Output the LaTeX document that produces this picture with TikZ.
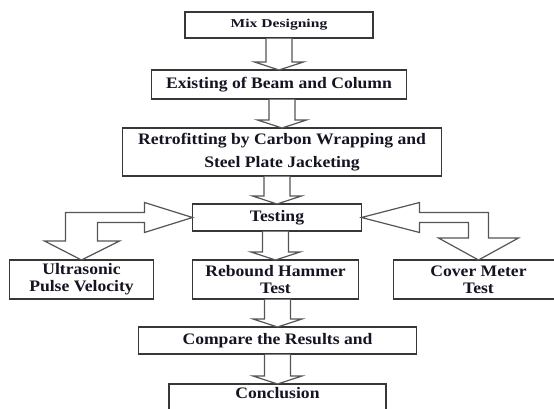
\documentclass[tikz,border=0pt]{standalone}
\usepackage{fontspec}
\setmainfont{Liberation Serif}[FakeStretch=1.1]
\newfontfamily\mixfont{Liberation Serif}[FakeStretch=1.3]
\usepackage{tikz}
\usetikzlibrary{positioning,calc}
\definecolor{flowLine}{RGB}{55,55,55}
\definecolor{flowArrowLine}{RGB}{85,85,85}
\definecolor{flowText}{RGB}{20,20,35}
\tikzset{
  stepbox/.style={rectangle, draw=flowLine, fill=white, line width=1.4pt, inner sep=0pt, outer sep=0pt,
    align=center, text=flowText, font=\fontsize{16}{17}\selectfont\bfseries},
  blockarrow/.style={draw=flowArrowLine, fill=white, line width=1.2pt, line join=miter},
}

\begin{document}
\begin{tikzpicture}[x=1pt, y=1pt, node distance=29pt and 37pt]
  \clip (0,0) rectangle (554,408);
  \node[stepbox, minimum width=188pt, minimum height=26pt,
    font=\mixfont\fontsize{12}{14}\selectfont\bfseries] (mix) at (279,383) {Mix Designing};
  \node[stepbox, minimum width=255pt, minimum height=29pt, below=32pt of mix] (exist) {Existing of Beam and Column};
  \node[stepbox, minimum width=319pt, minimum height=48pt, below=of exist, xshift=3pt,
    font=\fontsize{16}{23}\selectfont\bfseries] (retro) {Retrofitting by Carbon Wrapping and\\Steel Plate Jacketing};
  \node[stepbox, minimum width=169pt, minimum height=27pt, below=28pt of retro, xshift=-5pt] (test) {Testing};
  \node[stepbox, minimum width=166pt, minimum height=39pt, below=of test, xshift=-1.5pt] (rebound) {Rebound Hammer\\Test};
  \node[stepbox, minimum width=144pt, minimum height=39pt, left=39pt of rebound] (ultra) {Ultrasonic\\Pulse Velocity};
  \node[stepbox, minimum width=170pt, minimum height=39pt, right=35pt of rebound] (cover) {Cover Meter\\Test};
  \node[stepbox, minimum width=278pt, minimum height=27pt, below=28pt of rebound, xshift=2pt] (compare) {Compare the Results and};
  \node[stepbox, minimum width=217pt, minimum height=30pt, text depth=12pt, below=30pt of compare] (concl) {Conclusion};

  % straight block arrows down the middle
  \foreach \a/\b in {mix/exist, exist/retro, retro/test, test/rebound, rebound/compare, compare/concl}
    \draw[blockarrow] ($(\a.south -| \b.north)+(-13,-0.7)$) -- ($(\b.north)+(-13,8)$) -- ++(-11.5,0)
      -- (\b.north) -- ++(24.5,8) -- ++(-11.5,0) -- ($(\a.south -| \b.north)+(13,-0.7)$);

  % u-turn arrows to the side tests
  \draw[blockarrow] (test.west) -- ++(-48,15) -- ++(0,-10) -| ($(ultra.north)+(-16,19)$) -- ++(-21,0)
    -- (ultra.north) -- ++(38,19) -- ++(-22,0) |- ($(test.west)+(-48,-5)$) -- ++(0,-10) -- cycle;
  \draw[blockarrow] (test.east) -- ++(58,15) -- ++(0,-10) -| ($(cover.north)+(10,22)$) -- ++(30,0)
    -- (cover.north) -- ++(-40,22) -- ++(30,0) |- ($(test.east)+(58,-5)$) -- ++(0,-10) -- cycle;
\end{tikzpicture}
\end{document}
